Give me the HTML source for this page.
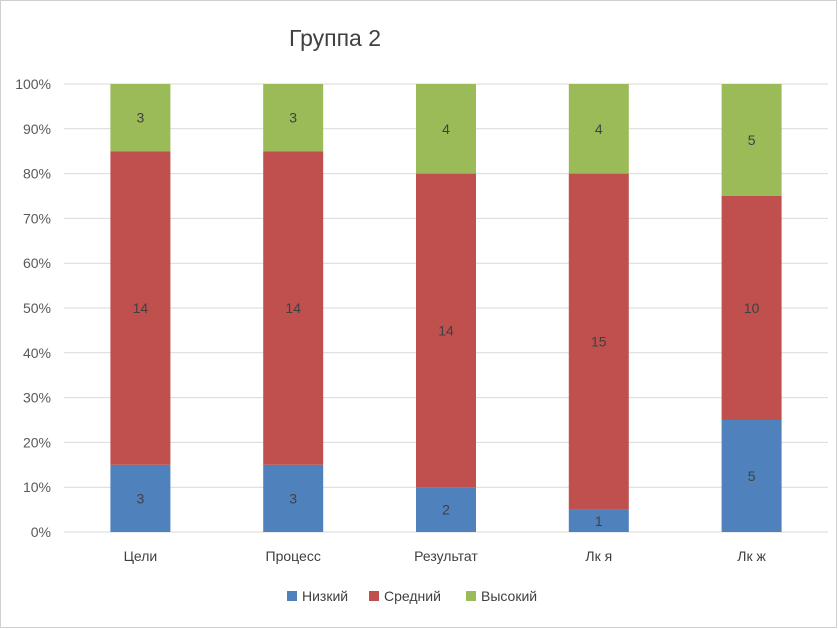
<!DOCTYPE html>
<html><head><meta charset="utf-8"><style>
body{margin:0;background:#fff;}
svg{display:block;font-family:"Liberation Sans","DejaVu Sans",sans-serif;}
</style></head><body>
<svg id="c" width="838" height="629">
<rect x="0.5" y="0.5" width="836" height="627" fill="#fff" stroke="#d0d0d0"/>
<text x="335" y="46" font-size="23" fill="#404040" text-anchor="middle">Группа 2</text>
<g id="grid"></g><g id="bars"></g><g id="labels"></g>
<g font-size="14" fill="#404040">
<rect x="287" y="591" width="10" height="10" fill="#4f81bd"/>
<text x="302" y="601">Низкий</text>
<rect x="369" y="591" width="10" height="10" fill="#c0504d"/>
<text x="384" y="601">Средний</text>
<rect x="466" y="591" width="10" height="10" fill="#9bbb59"/>
<text x="481" y="601">Высокий</text>
</g>
</svg>
<script>
const categories=["Цели","Процесс","Результат","Лк я","Лк ж"];
const low=[3,3,2,1,5];
const mid=[14,14,14,15,10];
const high=[3,3,4,4,5];
const ticks=["0%","10%","20%","30%","40%","50%","60%","70%","80%","90%","100%"];
const NS="http://www.w3.org/2000/svg";
const y0=532,y1=84,xL=64,xR=828,bw=60;
const yS=p=>y0-(y0-y1)*p;
const xC=i=>xL+(xR-xL)*(i+0.5)/categories.length;
function mk(t,a,p){const e=document.createElementNS(NS,t);for(const k in a)e.setAttribute(k,a[k]);p.appendChild(e);return e;}
const g=document.getElementById('grid'),b=document.getElementById('bars'),l=document.getElementById('labels');
ticks.forEach((t,i)=>{const y=yS(i/10);
const ln=mk('line',{x1:xL,x2:xR,y1:y,y2:y,stroke:'#d9d9d9','stroke-width':1},g);


const tx=mk('text',{x:51,y:y+5,'font-size':14,fill:'#595959','text-anchor':'end'},g);tx.textContent=t;

});
const series=[[low,'#4f81bd','low'],[mid,'#c0504d','mid'],[high,'#9bbb59','high']];
categories.forEach((c,i)=>{const tot=low[i]+mid[i]+high[i];let acc=0;
series.forEach(([arr,col,nm])=>{const v=arr[i];const ya=yS(acc/tot),yb=yS((acc+v)/tot);acc+=v;
const r=mk('rect',{x:xC(i)-bw/2,y:yb,width:bw,height:ya-yb,fill:col},b);


const t=mk('text',{x:xC(i),y:(ya+yb)/2+5,'font-size':14,fill:'#404040','text-anchor':'middle'},l);t.textContent=v;

});
const ct=mk('text',{x:xC(i),y:561,'font-size':14,fill:'#404040','text-anchor':'middle'},l);ct.textContent=c;

});
</script>
</body></html>
